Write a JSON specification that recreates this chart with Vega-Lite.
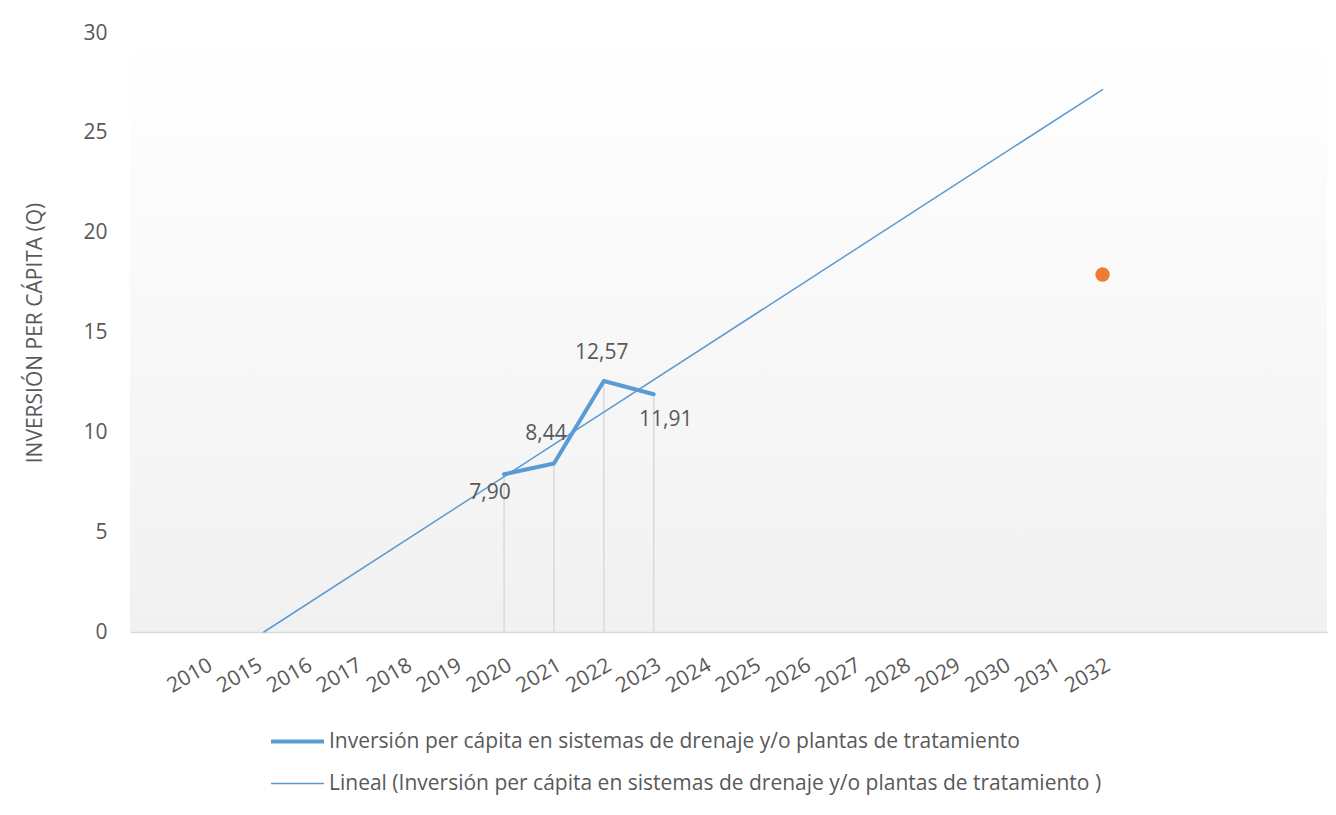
{
  "$schema": "https://vega.github.io/schema/vega-lite/v6.json",
  "width": 1197,
  "height": 599,
  "autosize": "none",
  "padding": {"left": 130, "top": 33, "right": 9, "bottom": 183},
  "background": "#ffffff",
  "config": {
    "font": "Open Sans",
    "locale": {"number": {"decimal": ",", "thousands": ".", "grouping": [3], "currency": ["Q", ""]}},
    "view": {
      "stroke": null,
      "fill": {"gradient": "linear", "x1": 0, "y1": 0, "x2": 0, "y2": 1,
        "stops": [{"offset": 0, "color": "#ffffff"}, {"offset": 1, "color": "#f1f1f1"}]}
    },
    "axis": {"labelFont": "Open Sans", "titleFont": "Open Sans", "labelColor": "#595959", "titleColor": "#595959", "labelFontSize": 21, "titleFontSize": 21, "titleFontWeight": "normal", "grid": false, "ticks": false, "tickSize": 0},
    "legend": {"labelFont": "Open Sans", "labelFontSize": 21, "labelColor": "#595959", "padding": 0}
  },
  "datasets": {
    "lines": [
      {"i": 7, "anio": "2020", "valor": 7.90, "serie": "Inversión per cápita en sistemas de drenaje y/o plantas de tratamiento"},
      {"i": 8, "anio": "2021", "valor": 8.44, "serie": "Inversión per cápita en sistemas de drenaje y/o plantas de tratamiento"},
      {"i": 9, "anio": "2022", "valor": 12.57, "serie": "Inversión per cápita en sistemas de drenaje y/o plantas de tratamiento"},
      {"i": 10, "anio": "2023", "valor": 11.91, "serie": "Inversión per cápita en sistemas de drenaje y/o plantas de tratamiento"},
      {"i": 2.185, "anio": "", "valor": 0, "serie": "Lineal (Inversión per cápita en sistemas de drenaje y/o plantas de tratamiento )"},
      {"i": 19, "anio": "2032", "valor": 27.17, "serie": "Lineal (Inversión per cápita en sistemas de drenaje y/o plantas de tratamiento )"}
    ],
    "proj": [{"i": 19, "anio": "2032", "valor": 17.9}]
  },
  "layer": [
    {
      "data": {"name": "lines"},
      "transform": [{"filter": "datum.serie == 'Inversión per cápita en sistemas de drenaje y/o plantas de tratamiento'"}],
      "mark": {"type": "rule", "color": "#d9d9d9", "strokeWidth": 1.5},
      "encoding": {
        "x": {"field": "i", "type": "quantitative"},
        "y": {"field": "valor", "type": "quantitative"},
        "y2": {"datum": 0}
      }
    },
    {
      "data": {"name": "lines"},
      "mark": {"type": "line", "strokeCap": "round", "strokeJoin": "round"},
      "encoding": {
        "x": {"field": "i", "type": "quantitative",
          "scale": {"domain": [-0.5, 23.5], "nice": false, "zero": false},
          "axis": {"title": null, "values": [1,2,3,4,5,6,7,8,9,10,11,12,13,14,15,16,17,18,19],
            "labelExpr": "datum.value == 1 ? '2010' : '' + (2013 + datum.value)",
            "labelAngle": -30, "labelPadding": 22, "labelOverlap": false, "labelFontSize": 21, "domainColor": "#d9d9d9", "domainWidth": 1.5}},
        "y": {"field": "valor", "type": "quantitative",
          "scale": {"domain": [0, 30], "nice": false},
          "axis": {"title": "INVERSIÓN PER CÁPITA (Q)", "values": [0,5,10,15,20,25,30], "domain": false, "labelPadding": 23, "titlePadding": 37}},
        "color": {"field": "serie", "type": "nominal",
          "scale": {"domain": ["Inversión per cápita en sistemas de drenaje y/o plantas de tratamiento", "Lineal (Inversión per cápita en sistemas de drenaje y/o plantas de tratamiento )"], "range": ["#5b9bd5", "#5b9bd5"]},
          "legend": {"title": null, "orient": "none", "legendX": 139, "legendY": 680, "direction": "vertical", "symbolType": "stroke", "symbolSize": 2809, "labelOffset": 3, "rowPadding": 4, "labelLimit": 1000}},
        "strokeWidth": {"field": "serie", "type": "nominal",
          "scale": {"domain": ["Inversión per cápita en sistemas de drenaje y/o plantas de tratamiento", "Lineal (Inversión per cápita en sistemas de drenaje y/o plantas de tratamiento )"], "range": [4, 1.5]},
          "legend": {"title": null, "orient": "none", "legendX": 139, "legendY": 680, "direction": "vertical", "symbolType": "stroke", "symbolSize": 2809, "labelOffset": 3, "rowPadding": 4, "labelLimit": 1000}},
        "detail": {"field": "serie"}
      }
    },
    {
      "data": {"name": "proj"},
      "mark": {"type": "circle", "color": "#ed7d31", "opacity": 1, "size": 210},
      "encoding": {
        "x": {"field": "i", "type": "quantitative"},
        "y": {"field": "valor", "type": "quantitative"}
      }
    },
    {
      "data": {"name": "lines"},
      "transform": [{"filter": "datum.anio == '2020'"}],
      "mark": {"type": "text", "fontSize": 21, "color": "#595959", "dx": -14, "dy": 19},
      "encoding": {"x": {"field": "i", "type": "quantitative"}, "y": {"field": "valor", "type": "quantitative"}, "text": {"field": "valor", "type": "quantitative", "format": ".2f"}}
    },
    {
      "data": {"name": "lines"},
      "transform": [{"filter": "datum.anio == '2021'"}],
      "mark": {"type": "text", "fontSize": 21, "color": "#595959", "dx": -8, "dy": -29},
      "encoding": {"x": {"field": "i", "type": "quantitative"}, "y": {"field": "valor", "type": "quantitative"}, "text": {"field": "valor", "type": "quantitative", "format": ".2f"}}
    },
    {
      "data": {"name": "lines"},
      "transform": [{"filter": "datum.anio == '2022'"}],
      "mark": {"type": "text", "fontSize": 21, "color": "#595959", "dx": -2, "dy": -28},
      "encoding": {"x": {"field": "i", "type": "quantitative"}, "y": {"field": "valor", "type": "quantitative"}, "text": {"field": "valor", "type": "quantitative", "format": ".2f"}}
    },
    {
      "data": {"name": "lines"},
      "transform": [{"filter": "datum.anio == '2023' && datum.valor < 12"}],
      "mark": {"type": "text", "fontSize": 21, "color": "#595959", "dx": 12, "dy": 26},
      "encoding": {"x": {"field": "i", "type": "quantitative"}, "y": {"field": "valor", "type": "quantitative"}, "text": {"field": "valor", "type": "quantitative", "format": ".2f"}}
    }
  ]
}
